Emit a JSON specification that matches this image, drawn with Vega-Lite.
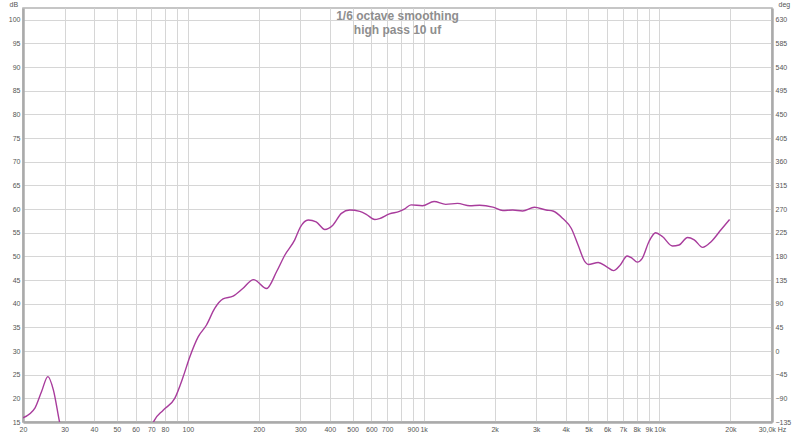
{
  "$schema": "https://vega.github.io/schema/vega-lite/v6.json",
  "width": 749,
  "height": 414,
  "autosize": {"type": "none"},
  "padding": {"left": 23, "top": 8, "right": 28, "bottom": 13},
  "background": "white",
  "title": {
    "text": ["1/6 octave smoothing", "high pass 10 uf"],
    "fontSize": 12,
    "fontWeight": "bold",
    "font": "Liberation Sans",
    "color": "#8e8e8e",
    "anchor": "middle",
    "frame": "group",
    "offset": -37,
    "lineHeight": 14
  },
  "config": {
    "view": {"stroke": "#b4b4b4", "strokeWidth": 1.5},
    "axis": {
      "labelFont": "Liberation Sans",
      "labelFontSize": 7,
      "labelColor": "#555555",
      "titleFont": "Liberation Sans",
      "titleFontSize": 7,
      "titleFontWeight": "normal",
      "titleColor": "#555555",
      "gridColor": "#d6d6d6",
      "gridWidth": 1,
      "gridOpacity": 1,
      "domainColor": "#aaaaaa",
      "domainWidth": 2.5,
      "ticks": false,
      "labelOverlap": false,
      "labelFlush": false,
      "labelBound": false
    }
  },
  "data": {
    "values": [
      {"f": 20, "dB": 15.9},
      {"f": 22.5, "dB": 18.0},
      {"f": 24, "dB": 21.5},
      {"f": 25.5, "dB": 24.6},
      {"f": 26.9, "dB": 21.8},
      {"f": 28.5, "dB": 15.3},
      {"f": 30, "dB": 10},
      {"f": 34, "dB": 4},
      {"f": 42, "dB": 1},
      {"f": 52, "dB": 1},
      {"f": 60, "dB": 5},
      {"f": 66, "dB": 10},
      {"f": 72, "dB": 15.3},
      {"f": 78.6, "dB": 17.5},
      {"f": 88, "dB": 20.0},
      {"f": 95.6, "dB": 24.6},
      {"f": 102, "dB": 28.8},
      {"f": 110.6, "dB": 33.0},
      {"f": 120, "dB": 35.5},
      {"f": 130, "dB": 39.0},
      {"f": 141, "dB": 41.0},
      {"f": 155.6, "dB": 41.6},
      {"f": 171, "dB": 43.2},
      {"f": 190, "dB": 45.1},
      {"f": 215.6, "dB": 43.2},
      {"f": 238, "dB": 46.8},
      {"f": 258, "dB": 50.3},
      {"f": 284, "dB": 53.5},
      {"f": 300, "dB": 56.2},
      {"f": 324, "dB": 57.7},
      {"f": 350, "dB": 57.3},
      {"f": 381, "dB": 55.7},
      {"f": 412, "dB": 56.6},
      {"f": 448, "dB": 59.1},
      {"f": 486, "dB": 59.8},
      {"f": 536, "dB": 59.5},
      {"f": 571, "dB": 58.9},
      {"f": 620, "dB": 57.8},
      {"f": 650, "dB": 58.0},
      {"f": 716, "dB": 59.0},
      {"f": 789, "dB": 59.5},
      {"f": 828, "dB": 60.0},
      {"f": 884, "dB": 60.9},
      {"f": 988, "dB": 60.7},
      {"f": 1107, "dB": 61.6},
      {"f": 1240, "dB": 61.0},
      {"f": 1392, "dB": 61.2},
      {"f": 1568, "dB": 60.7},
      {"f": 1728, "dB": 60.8},
      {"f": 1966, "dB": 60.4},
      {"f": 2166, "dB": 59.7},
      {"f": 2386, "dB": 59.8},
      {"f": 2628, "dB": 59.6},
      {"f": 2950, "dB": 60.4},
      {"f": 3304, "dB": 59.8},
      {"f": 3532, "dB": 59.6},
      {"f": 3894, "dB": 58.0},
      {"f": 4230, "dB": 55.9},
      {"f": 4516, "dB": 52.4},
      {"f": 4826, "dB": 48.9},
      {"f": 4988, "dB": 48.3},
      {"f": 5500, "dB": 48.7},
      {"f": 5976, "dB": 47.8},
      {"f": 6380, "dB": 47.0},
      {"f": 6820, "dB": 48.2},
      {"f": 7294, "dB": 50.1},
      {"f": 7660, "dB": 49.6},
      {"f": 8048, "dB": 48.8},
      {"f": 8452, "dB": 49.6},
      {"f": 9020, "dB": 53.1},
      {"f": 9632, "dB": 55.0},
      {"f": 10288, "dB": 54.2},
      {"f": 11350, "dB": 52.2},
      {"f": 12110, "dB": 52.4},
      {"f": 13150, "dB": 54.0},
      {"f": 14040, "dB": 53.5},
      {"f": 15240, "dB": 51.9},
      {"f": 16550, "dB": 53.1},
      {"f": 18270, "dB": 55.7},
      {"f": 19830, "dB": 57.8}
    ]
  },
  "encoding": {
    "x": {
      "field": "f",
      "type": "quantitative",
      "scale": {"type": "log", "domain": [20, 30000], "nice": false},
      "axis": {
        "title": null,
        "values": [20, 30, 40, 50, 60, 70, 80, 90, 100, 200, 300, 400, 500, 600, 700, 800, 900, 1000, 2000, 3000, 4000, 5000, 6000, 7000, 8000, 9000, 10000, 20000, 30000],
        "labelExpr": "datum.value == 90 || datum.value == 800 ? '' : datum.value == 30000 ? '30,0k Hz' : datum.value >= 1000 ? (datum.value / 1000) + 'k' : datum.value + ''",
        "labelPadding": 3
      }
    }
  },
  "layer": [
    {
      "mark": {"type": "line", "color": "#a83c9c", "strokeWidth": 1.4, "interpolate": "monotone", "clip": true},
      "encoding": {
        "y": {
          "field": "dB",
          "type": "quantitative",
          "scale": {"domain": [15, 102.5], "nice": false, "zero": false},
          "axis": {
            "orient": "left",
            "values": [15, 20, 25, 30, 35, 40, 45, 50, 55, 60, 65, 70, 75, 80, 85, 90, 95, 100],
            "title": "dB",
            "titleAngle": 0,
            "titleX": -14,
            "titleY": -1,
            "titleAlign": "left",
            "titleBaseline": "bottom",
            "labelPadding": 3
          }
        }
      }
    },
    {
      "mark": {"type": "line", "opacity": 0, "clip": true},
      "encoding": {
        "y": {
          "field": "dB",
          "type": "quantitative",
          "scale": {"domain": [15, 102.5], "nice": false, "zero": false},
          "axis": {
            "orient": "right",
            "grid": false,
            "values": [15, 20, 25, 30, 35, 40, 45, 50, 55, 60, 65, 70, 75, 80, 85, 90, 95, 100],
            "labelExpr": "format((datum.value - 15) * 9 - 135, 'd')",
            "title": "deg",
            "titleAngle": 0,
            "titleX": 6,
            "titleY": -1,
            "titleAlign": "left",
            "titleBaseline": "bottom",
            "labelPadding": 3
          }
        }
      }
    }
  ],
  "resolve": {"scale": {"y": "independent"}}
}
